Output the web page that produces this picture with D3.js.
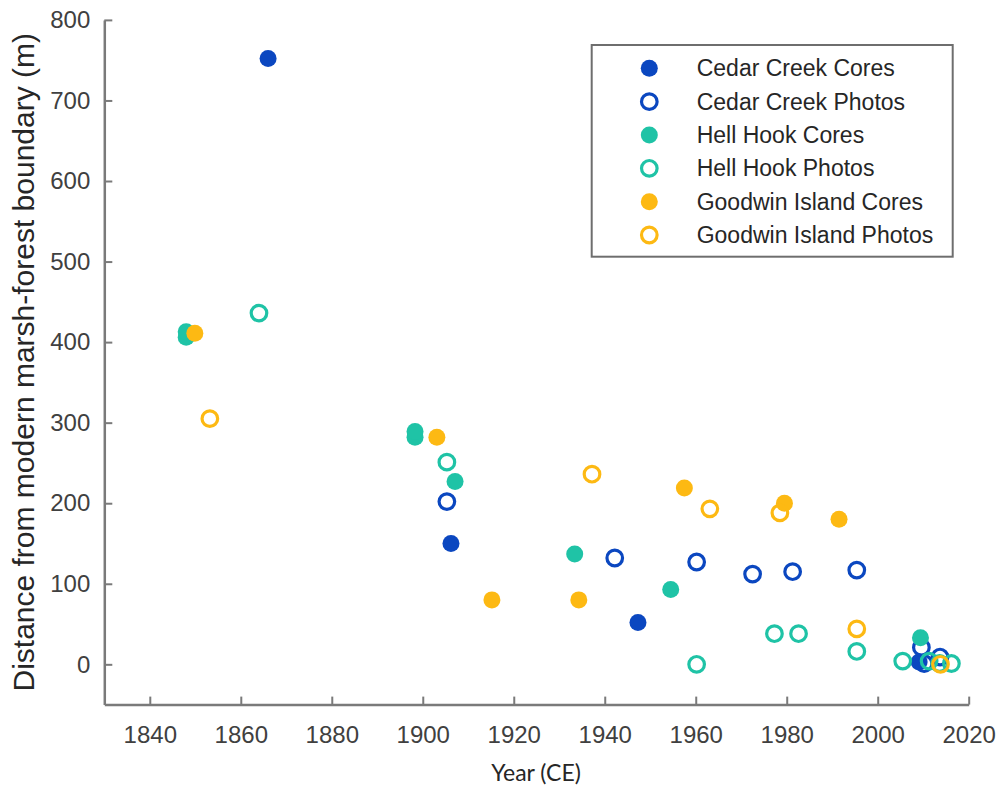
<!DOCTYPE html>
<html>
<head>
<meta charset="utf-8">
<script src="https://cdn.jsdelivr.net/npm/d3@7"></script>
<style>
  html, body { margin: 0; padding: 0; background: #fff; }
  svg { display: block; }
  text { font-family: "Liberation Sans", Arial, sans-serif; }
</style>
</head>
<body>
<script>
// Marsh-forest boundary migration: distance from the modern boundary by year
const xTicks = [1840, 1860, 1880, 1900, 1920, 1940, 1960, 1980, 2000, 2020];
const yTicks = [0, 100, 200, 300, 400, 500, 600, 700, 800];

// [year, distance (m)]
const cedarCreekCores = [[1866, 752], [1906.2, 150], [1947.3, 52], [2009.1, 3]];
const cedarCreekPhotos = [[1905.3, 202], [1942.2, 132], [1960.2, 127], [1972.5, 112],
  [1981.3, 115], [1995.4, 117], [2009.6, 21], [2010.2, 1], [2013.7, 9]];
const hellHookCores = [[1848, 406], [1848, 413], [1898.3, 282], [1898.3, 289],
  [1907.1, 227], [1933.4, 137], [1954.5, 93], [2009.4, 33]];
const hellHookPhotos = [[1864, 436], [1905.3, 251], [1960.2, 0], [1977.3, 38],
  [1982.6, 38], [1995.4, 16], [2005.5, 4], [2011.3, 4], [2013.6, 1], [2016.2, 1]];
const goodwinCores = [[1849.9, 411], [1903.1, 282], [1915.2, 80], [1934.3, 80],
  [1957.5, 219], [1979.5, 200], [1991.5, 180]];
const goodwinPhotos = [[1853.2, 305], [1937.2, 236], [1963.1, 193], [1978.5, 188],
  [1995.4, 44], [2013.8, 0]];

const seriesNames = ["Cedar Creek Cores", "Cedar Creek Photos", "Hell Hook Cores",
  "Hell Hook Photos", "Goodwin Island Cores", "Goodwin Island Photos"];
const seriesColors = ["#0b47c0", "#0b47c0", "#1fc3a6", "#1fc3a6", "#fdb913", "#fdb913"];
const seriesFilled = [true, false, true, false, true, false];
const seriesData = [cedarCreekCores, cedarCreekPhotos, hellHookCores,
  hellHookPhotos, goodwinCores, goodwinPhotos];

const W = 1003, H = 790;
const svg = d3.select("body").append("svg").attr("width", W).attr("height", H);

const x = d3.scaleLinear().domain([1830, 2020]).range([104.3, 968.7]);
const y = d3.scaleLinear().domain([-50, 800]).range([704.6, 19.9]);

const axisColor = "#7a7a7a";
const labelColor = "#404040";

// Bottom axis, ticks pointing inward
const gx = svg.append("g")
  .attr("transform", `translate(0,${y(-50)})`)
  .call(d3.axisBottom(x).tickValues(xTicks).tickFormat(d3.format("d"))
    .tickSizeInner(-8).tickSizeOuter(0).tickPadding(21));

// Left axis, ticks pointing inward
const gy = svg.append("g")
  .attr("transform", `translate(${x(1830)},0)`)
  .call(d3.axisLeft(y).tickValues(yTicks).tickFormat(d3.format("d"))
    .tickSizeInner(-8).tickSizeOuter(0).tickPadding(14));

[gx, gy].forEach(g => {
  g.select(".domain").attr("stroke", axisColor).attr("stroke-width", 2.5);
  g.selectAll(".tick line").attr("stroke", axisColor).attr("stroke-width", 2);
  g.selectAll(".tick text")
    .attr("fill", labelColor)
    .style("font-family", "'Liberation Sans', Arial, sans-serif")
    .style("font-size", "24px");
});

// Axis titles
svg.append("text")
  .attr("transform", `translate(34,${(y(800) + y(-50)) / 2}) rotate(-90)`)
  .attr("text-anchor", "middle")
  .attr("fill", "#262626")
  .style("font-size", "30px")
  .text("Distance from modern marsh-forest boundary (m)");

svg.append("text")
  .attr("x", 536)
  .attr("y", 781)
  .attr("text-anchor", "middle")
  .attr("fill", "#262626")
  .style("font-family", "Lato, 'Open Sans', sans-serif")
  .style("font-size", "23px")
  .text("Year (CE)");

// Markers, drawn series by series in legend order
const plot = svg.append("g");
seriesData.forEach((data, i) => {
  const filled = seriesFilled[i];
  plot.append("g")
    .selectAll("circle")
    .data(data)
    .join("circle")
    .attr("cx", d => x(d[0]))
    .attr("cy", d => y(d[1]))
    .attr("r", filled ? 8.5 : 7.8)
    .attr("fill", filled ? seriesColors[i] : "none")
    .attr("stroke", filled ? "none" : seriesColors[i])
    .attr("stroke-width", filled ? 0 : 3.2);
});

// Legend
const legend = svg.append("g");
legend.append("rect")
  .attr("x", 591.7).attr("y", 45)
  .attr("width", 361).attr("height", 211.7)
  .attr("fill", "#fff")
  .attr("stroke", "#6e6e6e")
  .attr("stroke-width", 2);

const rowY = d3.scaleLinear().domain([0, 5]).range([68.3, 235]);
const items = legend.selectAll("g.item")
  .data(seriesNames)
  .join("g")
  .attr("class", "item")
  .attr("transform", (d, i) => `translate(0,${rowY(i)})`);

items.append("circle")
  .attr("cx", 649.3).attr("cy", 0)
  .attr("r", (d, i) => seriesFilled[i] ? 8.5 : 7.8)
  .attr("fill", (d, i) => seriesFilled[i] ? seriesColors[i] : "none")
  .attr("stroke", (d, i) => seriesFilled[i] ? "none" : seriesColors[i])
  .attr("stroke-width", (d, i) => seriesFilled[i] ? 0 : 3.2);

items.append("text")
  .attr("x", 696.7)
  .attr("y", 0)
  .attr("dy", "0.35em")
  .attr("fill", "#262626")
  .style("font-size", "23px")
  .text(d => d);
</script>
</body>
</html>
